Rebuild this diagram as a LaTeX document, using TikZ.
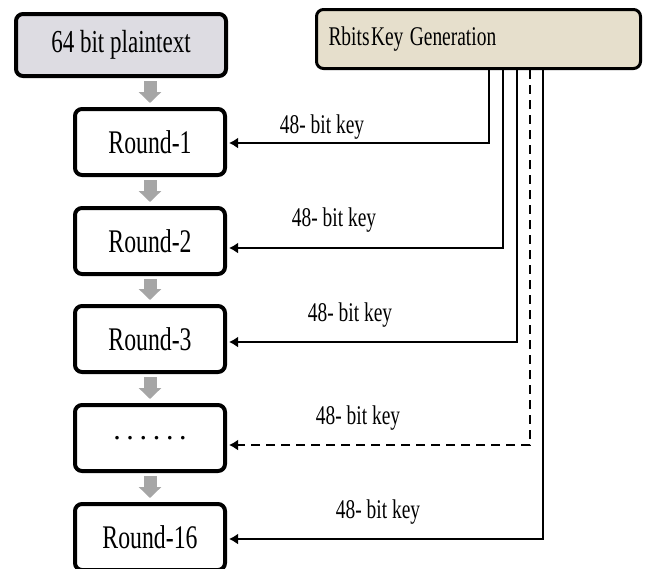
\documentclass[tikz,border=0pt]{standalone}
\usepackage{fontspec}
\setmainfont{Liberation Serif}
\usetikzlibrary{arrows.meta}
\definecolor{plainfill}{RGB}{221,220,226}
\definecolor{genfill}{RGB}{230,223,204}
\definecolor{flowgray}{RGB}{166,166,166}
\newcommand{\narrow}[1]{\scalebox{0.72}[1]{#1}}
\newcommand{\dotgap}{.\hspace{5.7pt}}

\begin{document}
\begin{tikzpicture}[x=1pt, y=-1pt, >={Latex[length=9pt,width=11pt]},
    stage/.style={draw, line width=4pt, rounded corners=7pt, fill=white,
        minimum width=150pt, minimum height=66pt, inner sep=0pt,
        font=\fontsize{33}{36}\selectfont},
    flow/.style={draw=flowgray, line width=13pt,
        -{Triangle[width=22pt,length=11pt]}, shorten <=3pt, shorten >=4pt},
    keyline/.style={line width=2pt, ->, shorten >=2pt},
    keylabel/.style={font=\fontsize{27}{30}\selectfont, inner sep=0pt}]
    \useasboundingbox (0,0) rectangle (650,568);
    % input and key schedule
    \node[stage, fill=plainfill, minimum width=210pt, minimum height=62pt,
        font=\fontsize{32}{34}\selectfont] (plain) at (121,45) {\narrow{64 bit plaintext}};
    \node[stage, fill=genfill, line width=3pt, text width=300pt, inner xsep=12pt,
        align=left, minimum height=59pt,
        font=\fontsize{27}{30}\selectfont] (gen) at (478.5,39)
        {\raisebox{5pt}{\narrow{Rbits\hspace{2pt}Key\hspace{9pt}Generation}}};
    % rounds
    \node[stage] (r1) at (150,142) {\narrow{Round-1}};
    \node[stage] (r2) at (150,241) {\narrow{Round-2}};
    \node[stage] (r3) at (150,339) {\narrow{Round-3}};
    \node[stage, font=\fontsize{30}{30}\selectfont] (rdots) at (150,438)
        {\raisebox{-4pt}{\dotgap\dotgap\dotgap\dotgap\dotgap.}};
    \node[stage] (r16) at (150,537) {\narrow{Round-16}};
    \draw[flow] (r1.north |- plain.south) -- (r1);
    \draw[flow] (r1) -- (r2);
    \draw[flow] (r2) -- (r3);
    \draw[flow] (r3) -- (rdots);
    \draw[flow] (rdots) -- (r16);
    % subkeys
    \foreach \r/\dx/\dy in {r1/10.5/-1, r2/24.5/-7, r3/38.5/-3, r16/64.5/-2}
        \draw[keyline] ([xshift=\dx pt]gen.south) |- ([yshift=\dy pt]\r.east);
    \draw[keyline, dash pattern=on 9pt off 6pt] ([xshift=51.5pt]gen.south) |- ([yshift=-7pt]rdots.east);
    \node[keylabel] (k1) at (322,127) {\narrow{48- bit key}};
    \node[keylabel] (k2) at (334,220) {\narrow{48- bit key}};
    \node[keylabel] (k3) at (350,315) {\narrow{48- bit key}};
    \node[keylabel] (k4) at (358,418) {\narrow{48- bit key}};
    \node[keylabel] (k5) at (378,512) {\narrow{48- bit key}};
\end{tikzpicture}
\end{document}
